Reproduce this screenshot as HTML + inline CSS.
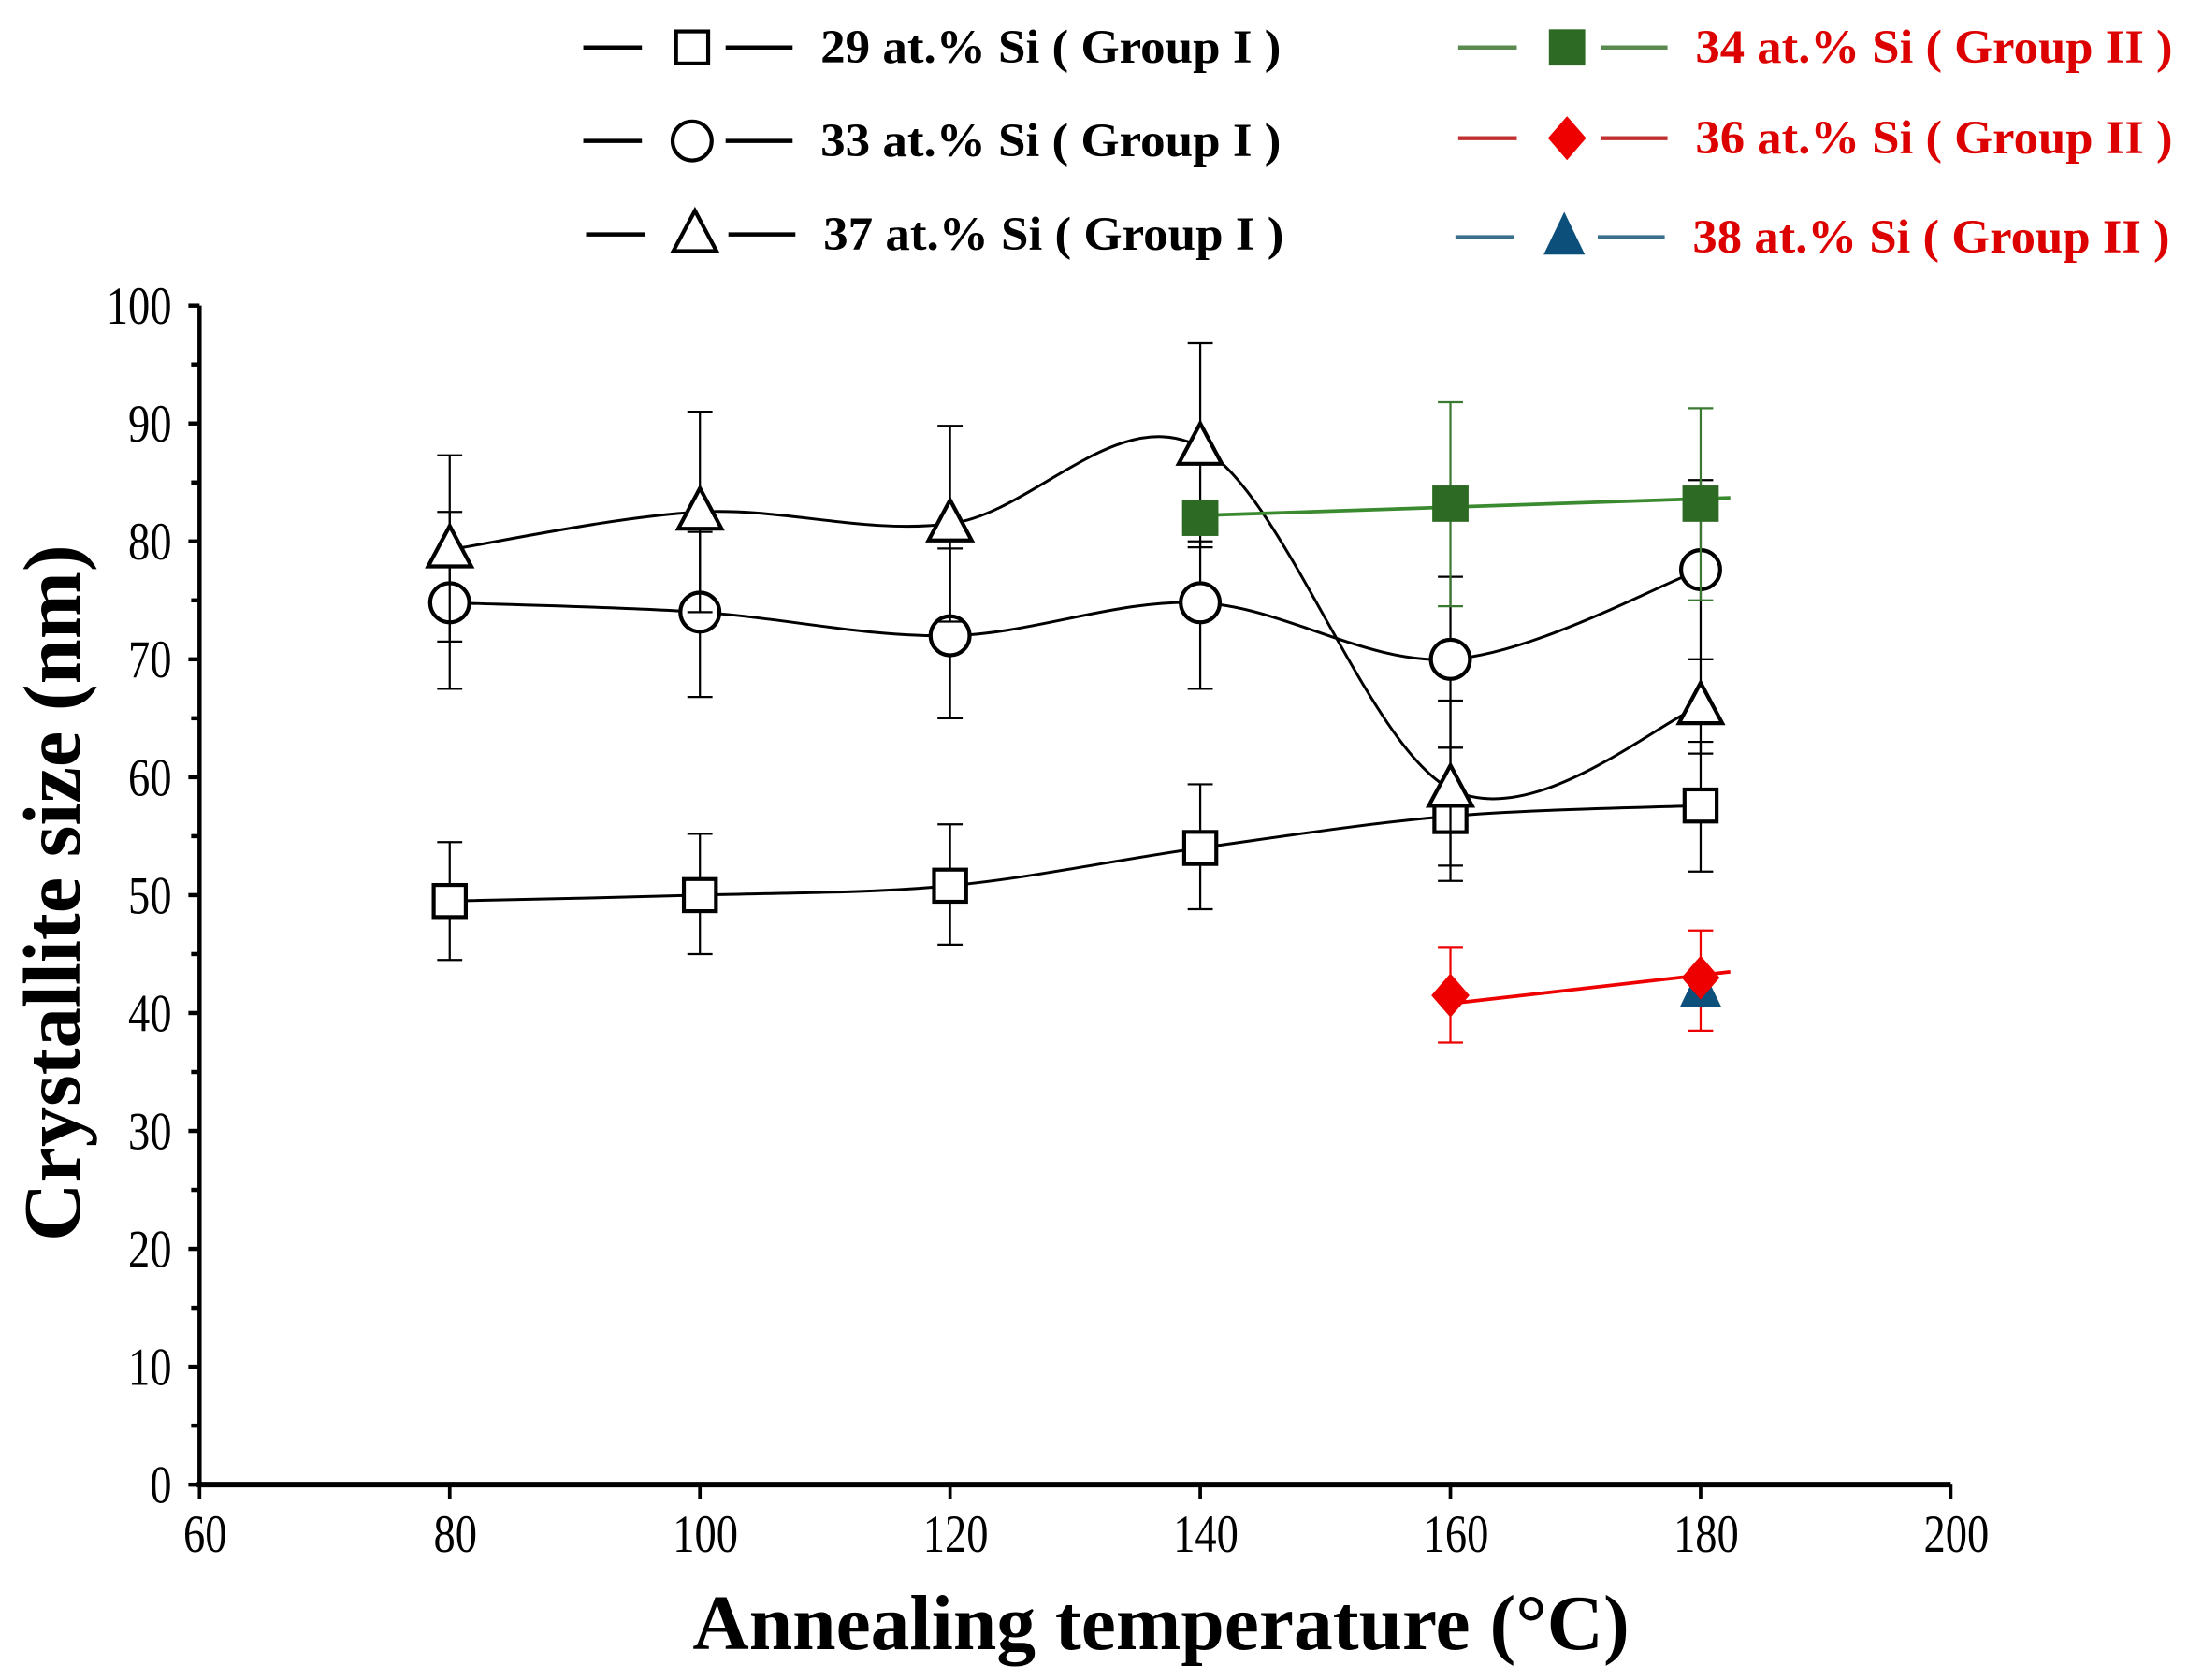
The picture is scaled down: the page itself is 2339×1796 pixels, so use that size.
<!DOCTYPE html>
<html><head><meta charset="utf-8"><style>
html,body{margin:0;padding:0;background:#fff;}
svg{display:block;}
text{font-family:"Liberation Serif",serif;}
</style></head><body>
<svg id="s" width="2339" height="1796" viewBox="0 0 1568 1204" preserveAspectRatio="none" xmlns="http://www.w3.org/2000/svg">
<rect width="1568" height="1204" fill="#fff"/>
<g id="axes" stroke="#000" fill="none"></g>
<g id="plot"></g>
<g id="legend"></g>
<text x="0" y="0" transform="translate(57,640) rotate(-90)" text-anchor="middle" font-size="58" font-weight="bold">Crystallite size (nm)</text>
<text x="832" y="1182" text-anchor="middle" font-size="56" font-weight="bold">Annealing temperature (°C)</text>
</svg>
<script>
const NS="http://www.w3.org/2000/svg";
function el(p,t,a,txt){const e=document.createElementNS(NS,t);for(const k in a)e.setAttribute(k,a[k]);if(txt!==undefined)e.textContent=txt;p.appendChild(e);return e;}
const X=t=>143+(t-60)*(1398-143)/140, Y=v=>1064-8.45*v;
const ax=document.getElementById('axes'),pl=document.getElementById('plot'),lg=document.getElementById('legend'),s=document.getElementById('s');
el(ax,'line',{x1:143,y1:219,x2:143,y2:1064,'stroke-width':3});
el(ax,'line',{x1:141,y1:1064,x2:1398,y2:1064,'stroke-width':4});
for(let v=0;v<=100;v+=5){el(ax,'line',{x1:v%10?137:135,y1:Y(v),x2:143,y2:Y(v),'stroke-width':3});
 if(v%10==0)el(s,'text',{x:123/0.82,y:Y(v)+13,'text-anchor':'end','font-size':38,transform:'scale(0.82,1)'},v);}
for(let t=60;t<=200;t+=20){el(ax,'line',{x1:X(t),y1:1064,x2:X(t),y2:1074,'stroke-width':2.5});
 el(s,'text',{x:(X(t)+4)/0.82,y:1112,'text-anchor':'middle','font-size':38,transform:'scale(0.82,1)'},t);}
function cr(pts){let d=`M${pts[0][0]},${pts[0][1]}`;for(let i=0;i<pts.length-1;i++){const p0=pts[i-1]||pts[i],p1=pts[i],p2=pts[i+1],p3=pts[i+2]||p2;
 d+=` C${p1[0]+(p2[0]-p0[0])/6},${p1[1]+(p2[1]-p0[1])/6} ${p2[0]-(p3[0]-p1[0])/6},${p2[1]-(p3[1]-p1[1])/6} ${p2[0]},${p2[1]}`;}return d;}
const T=[80,100,120,140,160,180];
const series=[
 {v:[49.5,50,50.8,54,56.7,57.6],e:[[44.5,54.5],[45,55.2],[45.8,56],[48.8,59.4],[51.2,62.5],[52,63]],m:'sq'},
 {v:[74.8,74,72,74.8,70,77.6],e:[[67.5,82.5],[66.8,80.8],[65,79.4],[67.5,80],[62.5,77],[70,85.2]],m:'ci'},
 {v:[79.3,82.5,81.5,88,59,66],e:[[71.5,87.3],[74,91],[73.2,89.8],[79.5,96.8],[52.5,66.5],[62,70]],m:'tr'}];
series.forEach(S=>{const pts=T.map((t,i)=>[X(t),Y(S.v[i])]);
 S.e.forEach((e,i)=>{const x=X(T[i]);el(pl,'line',{x1:x,y1:Y(e[0]),x2:x,y2:Y(e[1]),stroke:'#000','stroke-width':1.5});
  [e[0],e[1]].forEach(v=>el(pl,'line',{x1:x-9,y1:Y(v),x2:x+9,y2:Y(v),stroke:'#000','stroke-width':1.5}));});
 el(pl,'path',{d:cr(pts),fill:'none',stroke:'#000','stroke-width':2});
 pts.forEach(p=>mark(pl,S.m,p[0],p[1],'#fff','#000'));});
[[160,74.5,91.8],[180,75,91.3]].forEach(a=>{const x=X(a[0]);el(pl,'line',{x1:x,y1:Y(a[1]),x2:x,y2:Y(a[2]),stroke:'#3a7a30','stroke-width':1.5});[a[1],a[2]].forEach(v=>el(pl,'line',{x1:x-9,y1:Y(v),x2:x+9,y2:Y(v),stroke:'#3a7a30','stroke-width':1.5}));});
el(pl,'line',{x1:X(140),y1:Y(82.2),x2:1240,y2:Y(83.7),stroke:'#3a8a30','stroke-width':2.5});
[[140,82],[160,83.2],[180,83.2]].forEach(a=>mark(pl,'fsq',X(a[0]),Y(a[1]),'#2d6a24','#2d6a24'));
[[160,37.5,45.6],[180,38.5,47]].forEach(a=>{const x=X(a[0]);el(pl,'line',{x1:x,y1:Y(a[1]),x2:x,y2:Y(a[2]),stroke:'#e00','stroke-width':1.5});[a[1],a[2]].forEach(v=>el(pl,'line',{x1:x-9,y1:Y(v),x2:x+9,y2:Y(v),stroke:'#e00','stroke-width':1.5}));});
el(pl,'line',{x1:X(160),y1:Y(40.8),x2:1240,y2:Y(43.5),stroke:'#e00','stroke-width':2.5});
mark(pl,'ftr',X(180),Y(42),'#0b4f7a','#0b4f7a');
mark(pl,'di',X(160),Y(41.5),'#e00','#e00');mark(pl,'di',X(180),Y(43),'#e00','#e00');
function mark(g,m,x,y,f,st){
 if(m=='sq')el(g,'rect',{x:x-11.5,y:y-11.5,width:23,height:23,fill:f,stroke:st,'stroke-width':2.8});
 if(m=='fsq')el(g,'rect',{x:x-12.5,y:y-12.5,width:25,height:25,fill:f,stroke:st,'stroke-width':1});
 if(m=='ci')el(g,'circle',{cx:x,cy:y,r:14,fill:f,stroke:st,'stroke-width':2.8});
 if(m=='tr')el(g,'path',{d:`M${x},${y-17} L${x+15.5},${y+12} L${x-15.5},${y+12}Z`,fill:f,stroke:st,'stroke-width':2.8});
 if(m=='ftr')el(g,'path',{d:`M${x},${y-17} L${x+14},${y+12} L${x-14},${y+12}Z`,fill:f,stroke:st,'stroke-width':1});
 if(m=='di')el(g,'path',{d:`M${x},${y-15} L${x+13},${y} L${x},${y+15} L${x-13},${y}Z`,fill:f,stroke:st,'stroke-width':1});}
const L=[[418,34,'sq','#000','#fff','#000','29 at.% Si ( Group I )','#000',330],[418,101,'ci','#000','#fff','#000','33 at.% Si ( Group I )','#000',330],[420,168,'tr','#000','#fff','#000','37 at.% Si ( Group I )','#000',330],
 [1045,34,'fsq','#5a8a50','#2d6a24','#2d6a24','34 at.% Si ( Group II )','#d00',342],[1045,99,'di','#c03030','#e00','#e00','36 at.% Si ( Group II )','#d00',342],[1043,170,'ftr','#3a6f90','#0b4f7a','#0b4f7a','38 at.% Si ( Group II )','#d00',342]];
L.forEach(a=>{const[x,y,m,lc,f,st,t,tc,w]=a;el(lg,'line',{x1:x,y1:y,x2:x+42,y2:y,stroke:lc,'stroke-width':3});
 el(lg,'line',{x1:x+102,y1:y,x2:x+150,y2:y,stroke:lc,'stroke-width':3});mark(lg,m,x+78,y,f,st);
 el(lg,'text',{x:x+170,y:y+11,'font-size':34,'font-weight':'bold',fill:tc,textLength:w,lengthAdjust:'spacingAndGlyphs'},t);});
</script>
</body></html>
